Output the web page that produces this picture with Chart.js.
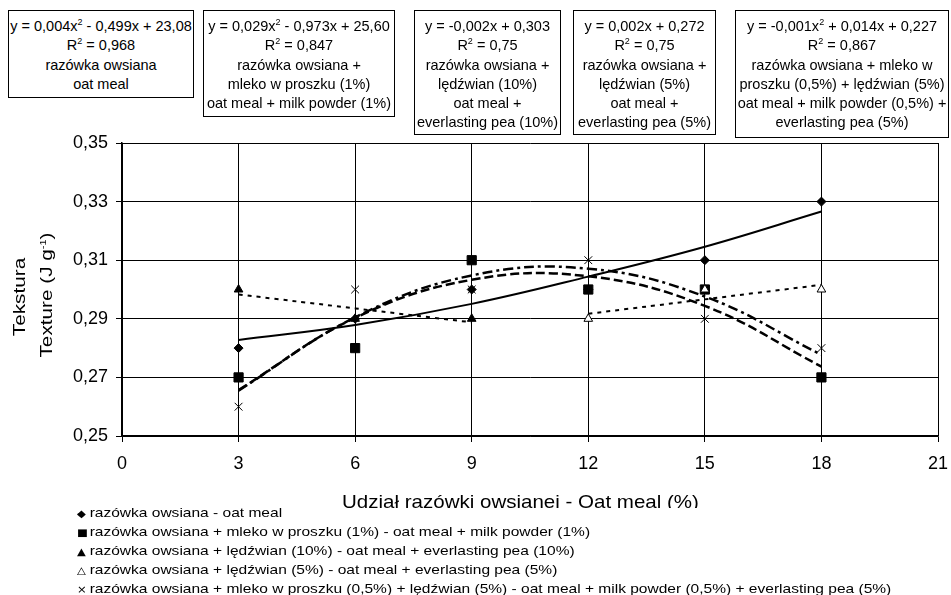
<!DOCTYPE html>
<html>
<head>
<meta charset="utf-8">
<script src="https://cdn.jsdelivr.net/npm/chart.js@4/dist/chart.umd.min.js"></script>
<style>
  body { margin: 0; width: 951px; height: 595px; background: #fff; position: relative; overflow: hidden;
         font-family: "Liberation Sans", Arial, sans-serif; color: #000; }
  #chart { position: absolute; left: 0; top: 0; }
  .box { position: absolute; top: 10px; box-sizing: border-box; border: 1px solid #000; background: #fff;
         text-align: center; font-size: 14.5px; line-height: 19.3px; padding-top: 6px; white-space: nowrap; }
  sup { font-size: 9px; line-height: 0; vertical-align: 6px; }
  .yt { position: absolute; width: 200px; height: 24px; line-height: 24px; text-align: center;
        font-size: 17px; white-space: nowrap; transform: rotate(-90deg) scaleX(1.22); }
  #xtitle { position: absolute; left: 342px; top: 492px; height: 16px; overflow: hidden; font-size: 19px;
            line-height: 20px; white-space: nowrap; transform: scaleX(1.08); transform-origin: left top; }
  #legend { position: absolute; left: 77px; top: 504px; font-size: 13.5px; line-height: 18px; white-space: nowrap;
            transform: scaleX(1.15); transform-origin: left top; }
  #legend .m { display: inline-block; width: 11px; font-size: 10px; font-family: "DejaVu Sans", sans-serif; }
</style>
</head>
<body>
<canvas id="chart" width="951" height="595"></canvas>

<div class="box" style="left:8px;width:186px;height:88px">y = 0,004x<sup>2</sup> - 0,499x + 23,08<br>R<sup>2</sup> = 0,968<br>razówka owsiana<br>oat meal</div>
<div class="box" style="left:203px;width:192px;height:107px">y = 0,029x<sup>2</sup> - 0,973x + 25,60<br>R<sup>2</sup> = 0,847<br>razówka owsiana +<br>mleko w proszku (1%)<br>oat meal + milk powder (1%)</div>
<div class="box" style="left:414px;width:147px;height:125px">y = -0,002x + 0,303<br>R<sup>2</sup> = 0,75<br>razówka owsiana +<br>lędźwian (10%)<br>oat meal +<br>everlasting pea (10%)</div>
<div class="box" style="left:573px;width:143px;height:125px">y = 0,002x + 0,272<br>R<sup>2</sup> = 0,75<br>razówka owsiana +<br>lędźwian (5%)<br>oat meal +<br>everlasting pea (5%)</div>
<div class="box" style="left:735px;width:214px;height:128px">y = -0,001x<sup>2</sup> + 0,014x + 0,227<br>R<sup>2</sup> = 0,867<br>razówka owsiana + mleko w<br>proszku (0,5%) + lędźwian (5%)<br>oat meal + milk powder (0,5%) +<br>everlasting pea (5%)</div>

<div class="yt" style="left:-80px;top:285px">Tekstura</div>
<div class="yt" style="left:-53px;top:283px">Texture (J g<sup>-1</sup>)</div>
<div id="xtitle">Udział razówki owsianej - Oat meal (%)</div>

<div id="legend">
  <div><span class="m">◆</span>razówka owsiana - oat meal</div>
  <div><span class="m">■</span>razówka owsiana + mleko w proszku (1%) - oat meal + milk powder (1%)</div>
  <div><span class="m">▲</span>razówka owsiana + lędźwian (10%) - oat meal + everlasting pea (10%)</div>
  <div><span class="m">△</span>razówka owsiana + lędźwian (5%) - oat meal + everlasting pea (5%)</div>
  <div><span class="m">×</span>razówka owsiana + mleko w proszku (0,5%) + lędźwian (5%) - oat meal + milk powder (0,5%) + everlasting pea (5%)</div>
</div>

<script>
// measured values
const shares = [3, 6, 9, 12, 15, 18];
const oatMeal = [0.28, 0.29, 0.30, 0.30, 0.31, 0.33];
const oatMilk = [0.27, 0.28, 0.31, 0.30, 0.30, 0.27];
const oatMilkPea = [0.26, 0.30, 0.30, 0.31, 0.29, 0.28];

const pea10Shares = [3, 6, 9];
const oatPea10 = [0.30, 0.29, 0.29];
const pea5Shares = [12, 15, 18];
const oatPea5 = [0.29, 0.30, 0.30];

// trend lines
const oatMealTrend = [0.2828, 0.2879, 0.2951, 0.3044, 0.3146, 0.3266];
const oatMilkTrend = [0.2657, 0.2903, 0.3033, 0.3045, 0.2944, 0.2737];
const oatMilkPeaTrend = [0.2655, 0.2905, 0.3048, 0.3071, 0.2976, 0.2777];
const pea10TrendX = [3, 9];
const oatPea10Trend = [0.2983, 0.2888];
const pea5TrendX = [12, 18];
const oatPea5Trend = [0.2917, 0.3016];

// axes
const xTickValues = [0, 3, 6, 9, 12, 15, 18, 21];
const xTickLabels = ['0', '3', '6', '9', '12', '15', '18', '21'];
const yTickValues = [0.25, 0.27, 0.29, 0.31, 0.33, 0.35];
const yTickLabels = ['0,25', '0,27', '0,29', '0,31', '0,33', '0,35'];

function pts(xs, ys) {
  return xs.map((x, i) => ({ x: x, y: ys[i] }));
}

function markers(xs, ys, style, radius, fill) {
  return {
    data: pts(xs, ys),
    showLine: false,
    pointStyle: style,
    pointRadius: radius,
    pointBackgroundColor: fill,
    pointBorderColor: '#000',
    pointBorderWidth: 1
  };
}

function trend(xs, ys, dash, width) {
  return {
    data: pts(xs, ys),
    showLine: true,
    borderColor: '#000',
    borderWidth: width,
    borderDash: dash,
    pointRadius: 0,
    tension: 0.4
  };
}

const ctx = document.getElementById('chart').getContext('2d');
new Chart(ctx, {
  type: 'scatter',
  data: {
    datasets: [
      markers(shares, oatMilkPea, 'crossRot', 5.5, '#000'),
      markers(pea5Shares, oatPea5, 'triangle', 5, '#fff'),
      markers(pea10Shares, oatPea10, 'triangle', 5, '#000'),
      markers(shares, oatMilk, 'rect', 6.5, '#000'),
      markers(shares, oatMeal, 'rectRot', 4.5, '#000'),
      trend(shares, oatMilkPeaTrend, [10, 4, 3, 4], 2.5),
      trend(pea5TrendX, oatPea5Trend, [4, 5], 2),
      trend(pea10TrendX, oatPea10Trend, [4, 5], 2),
      trend(shares, oatMilkTrend, [9, 4], 2.5),
      trend(shares, oatMealTrend, [], 2)
    ]
  },
  options: {
    responsive: false,
    animation: false,
    layout: { padding: { left: 0, top: 143, right: 13, bottom: 0 } },
    plugins: { legend: { display: false }, tooltip: { enabled: false } },
    scales: {
      x: {
        type: 'linear',
        min: 0,
        max: 21,
        afterBuildTicks: axis => { axis.ticks = xTickValues.map(v => ({ value: v })); },
        afterFit: axis => {
          axis.height = 159;
          axis.paddingLeft = 0;
          axis.paddingRight = 0;
        },
        ticks: {
          color: '#000',
          padding: 11,
          font: { family: 'Liberation Sans', size: 18 },
          callback: (v, i) => xTickLabels[i]
        },
        grid: { color: '#000', lineWidth: 1, tickLength: 6, tickColor: '#000' },
        border: { color: '#000', width: 1.5 }
      },
      y: {
        type: 'linear',
        min: 0.25,
        max: 0.35,
        afterBuildTicks: axis => { axis.ticks = yTickValues.map(v => ({ value: v })); },
        afterFit: axis => {
          axis.width = 122;
          axis.paddingTop = 0;
          axis.paddingBottom = 0;
        },
        ticks: {
          color: '#000',
          padding: 8,
          font: { family: 'Liberation Sans', size: 18 },
          callback: (v, i) => yTickLabels[i]
        },
        grid: { color: '#000', lineWidth: 1, tickLength: 6, tickColor: '#000' },
        border: { color: '#000', width: 1.5 }
      }
    }
  }
});
</script>
</body>
</html>
